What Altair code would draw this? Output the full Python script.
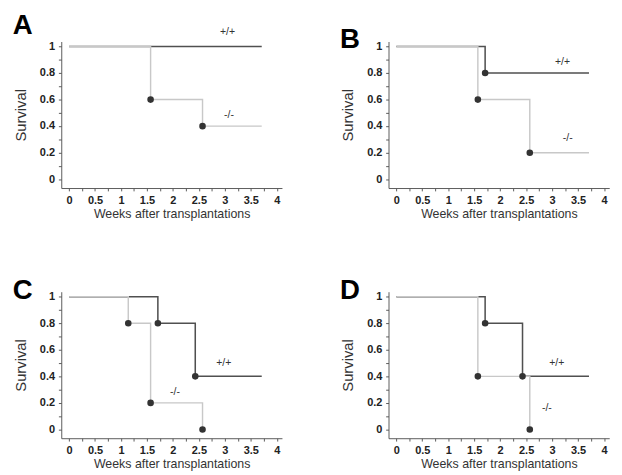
import altair as alt
import pandas as pd

# ---- data (weeks after transplantation, survival fraction) ----
A_pp_x = [0, 3.71]
A_pp_y = [1, 1]
A_mm_x = [0, 1.57, 2.57, 3.71]
A_mm_y = [1, 0.6, 0.4, 0.4]
A_dot_x = [1.57, 2.57]
A_dot_y = [0.6, 0.4]
A_lab = ["+/+", "-/-"]
A_lab_x = [3.05, 3.08]
A_lab_y = [1.11, 0.48]

B_pp_x = [0, 1.71, 3.71]
B_pp_y = [1, 0.8, 0.8]
B_mm_x = [0, 1.57, 2.57, 3.71]
B_mm_y = [1, 0.6, 0.2, 0.2]
B_dot_x = [1.71, 1.57, 2.57]
B_dot_y = [0.8, 0.6, 0.2]
B_lab = ["+/+", "-/-"]
B_lab_x = [3.2, 3.3]
B_lab_y = [0.88, 0.31]

C_pp_x = [0, 1.71, 2.43, 3.71]
C_pp_y = [1, 0.8, 0.4, 0.4]
C_mm_x = [0, 1.14, 1.57, 2.57]
C_mm_y = [1, 0.8, 0.2, 0]
C_dot_x = [1.14, 1.71, 1.57, 2.43, 2.57]
C_dot_y = [0.8, 0.8, 0.2, 0.4, 0]
C_lab = ["+/+", "-/-"]
C_lab_x = [2.98, 2.04]
C_lab_y = [0.5, 0.28]

D_pp_x = [0, 1.71, 2.43, 3.71]
D_pp_y = [1, 0.8, 0.4, 0.4]
D_mm_x = [0, 1.57, 2.57]
D_mm_y = [1, 0.4, 0]
D_dot_x = [1.71, 1.57, 2.43, 2.57]
D_dot_y = [0.8, 0.4, 0.4, 0]
D_lab = ["+/+", "-/-"]
D_lab_x = [3.09, 2.9]
D_lab_y = [0.5, 0.16]

x_ticks = [i * 0.25 for i in range(17)]
y_ticks = [i * 0.1 for i in range(11)]

FONT = "Liberation Sans"
DARK = "#505050"
LIGHT = "#c8c8c8"


def panel(letter, ppx, ppy, mmx, mmy, dx, dy, lab, labx, laby):
    pp = pd.DataFrame({"x": ppx, "y": ppy})
    mm = pd.DataFrame({"x": mmx, "y": mmy})
    dots = pd.DataFrame({"x": dx, "y": dy})
    labs = pd.DataFrame({"t": lab, "x": labx, "y": laby})

    xs = alt.Scale(domain=[-0.15, 4.1], nice=False, zero=False)
    ys = alt.Scale(domain=[-0.066, 1.037], nice=False, zero=False)
    xa = alt.Axis(
        values=x_ticks,
        labelExpr="abs(round(datum.value*2) - datum.value*2) < 0.001 ? format(datum.value, '~g') : ''",
        title="Weeks after transplantations",
        grid=False,
    )
    ya = alt.Axis(
        values=y_ticks,
        labelExpr="abs(round(datum.value*5) - datum.value*5) < 0.001 ? format(datum.value, '~g') : ''",
        title="Survival",
        grid=False,
    )
    X = alt.X("x:Q", scale=xs, axis=xa)
    Y = alt.Y("y:Q", scale=ys, axis=ya)

    l1 = alt.Chart(pp).mark_line(interpolate="step-after", color=DARK, strokeWidth=1.6).encode(x=X, y=Y)
    l2 = alt.Chart(mm).mark_line(interpolate="step-after", color=LIGHT, strokeWidth=1.5).encode(x=X, y=Y)
    pts = alt.Chart(dots).mark_circle(color="#333333", size=48, opacity=1).encode(x=X, y=Y)
    txt = alt.Chart(labs).mark_text(font=FONT, fontSize=11, color="#333333").encode(x=X, y=Y, text="t:N")

    return alt.layer(l1, l2, pts, txt).properties(
        width=232,
        height=154,
        title=alt.TitleParams(
            text=letter, anchor="start", frame="group", dx=-51, offset=-14,
            fontSize=29, fontWeight="bold", font=FONT, color="black",
        ),
    )


pA = panel("A", A_pp_x, A_pp_y, A_mm_x, A_mm_y, A_dot_x, A_dot_y, A_lab, A_lab_x, A_lab_y)
pB = panel("B", B_pp_x, B_pp_y, B_mm_x, B_mm_y, B_dot_x, B_dot_y, B_lab, B_lab_x, B_lab_y)
pC = panel("C", C_pp_x, C_pp_y, C_mm_x, C_mm_y, C_dot_x, C_dot_y, C_lab, C_lab_x, C_lab_y)
pD = panel("D", D_pp_x, D_pp_y, D_mm_x, D_mm_y, D_dot_x, D_dot_y, D_lab, D_lab_x, D_lab_y)

chart = alt.vconcat(
    alt.hconcat(pA, pB, spacing=61),
    alt.hconcat(pC, pD, spacing=61),
    spacing=59,
).properties(
    padding={"left": 5, "top": -9, "right": 5, "bottom": 5},
).configure_view(stroke=None).configure_axis(
    domainColor="#555555",
    tickColor="#555555",
    tickSize=3,
    labelFont=FONT,
    labelFontSize=11.5,
    labelFontWeight="bold",
    labelColor="#222222",
    labelPadding=4,
    titleFont=FONT,
    titleFontWeight="normal",
    titleColor="#333333",
).configure_axisX(
    titleFontSize=13, titlePadding=2, labelPadding=4,
).configure_axisY(
    titleFontSize=15.5, titlePadding=12,
)

chart.save("out.html", embed_options={"renderer": "svg", "actions": False})
